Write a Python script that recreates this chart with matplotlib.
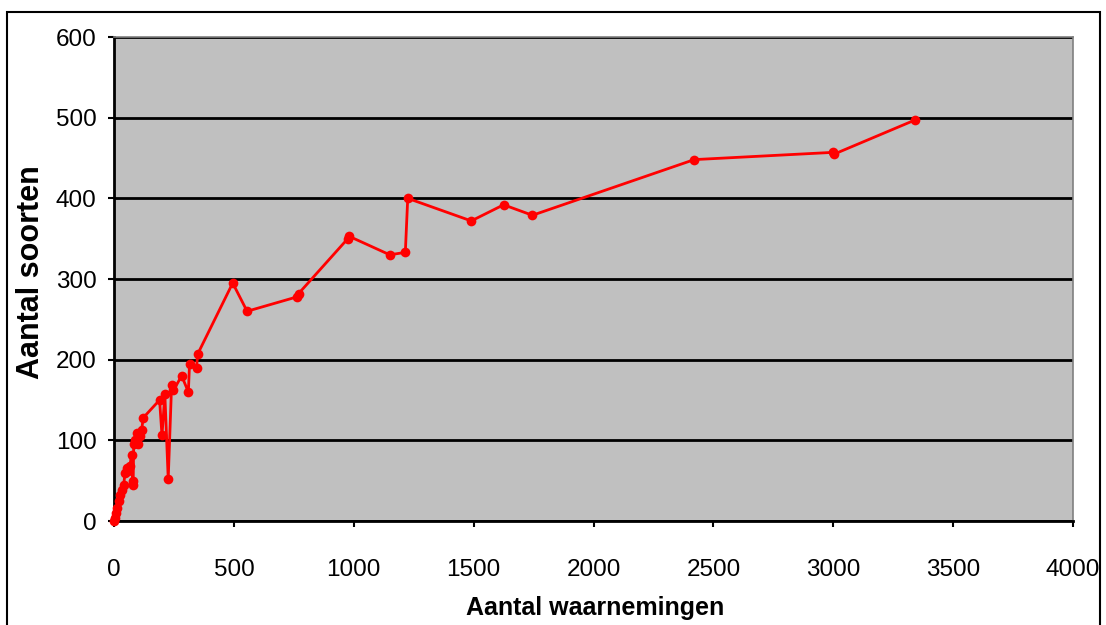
import matplotlib.pyplot as plt
from matplotlib.patches import Rectangle

plt.rcParams['font.family'] = ['Liberation Sans', 'DejaVu Sans']

# aantal waarnemingen (x) en aantal soorten (y)
waarnemingen = [0, 4, 8, 14, 20, 26, 32, 40, 46, 53, 60, 66, 73, 78, 80, 82, 88, 95, 100,
                108, 115, 122, 190, 200, 212, 226, 240, 248, 282, 310, 315, 344, 349,
                495, 555, 765, 770, 975, 980, 1150, 1215, 1225, 1490, 1625, 1745,
                2420, 3000, 3005, 3340]
soorten = [0, 4, 10, 16, 25, 32, 38, 45, 59, 66, 62, 68, 82, 45, 50, 95, 101, 109, 95,
           105, 113, 128, 150, 106, 157, 52, 168, 162, 180, 160, 195, 190, 207,
           295, 260, 278, 282, 350, 353, 330, 333, 400, 372, 392, 379,
           448, 457, 455, 497]

x_ticks = [0, 500, 1000, 1500, 2000, 2500, 3000, 3500, 4000]
y_ticks = [0, 100, 200, 300, 400, 500, 600]

fig = plt.figure(figsize=(11.06, 6.25), dpi=100)
ax = fig.add_axes([0.1031, 0.1664, 0.9702 - 0.1031, 0.9408 - 0.1664])
ax.set_facecolor('#C0C0C0')

# kader rond de figuur
fig.patches.append(Rectangle((7 / 1106, -0.05), (1100 - 7) / 1106, 1.05 - 12 / 625,
                             transform=fig.transFigure, fill=False,
                             edgecolor='black', linewidth=1.5))

ax.plot(waarnemingen, soorten, color='#FF0000', linewidth=2, marker='o',
        markersize=7, markeredgewidth=0, zorder=3, clip_on=False)

ax.set_xlim(0, 4000)
ax.set_ylim(0, 600)
ax.set_xticks(x_ticks)
ax.set_yticks(y_ticks)
ax.yaxis.grid(True, color='black', linewidth=2)
ax.set_axisbelow(True)

for s in ['top', 'right']:
    ax.spines[s].set_color('#808080')
    ax.spines[s].set_linewidth(1.2)
for s in ['left', 'bottom']:
    ax.spines[s].set_color('black')
    ax.spines[s].set_linewidth(2)

ax.tick_params(axis='both', direction='out', length=4.5, width=1.5, labelsize=17.5)
ax.tick_params(axis='x', pad=23)
ax.tick_params(axis='y', pad=8)

ax.set_xlabel('Aantal waarnemingen', fontsize=18, fontweight='bold', va='center')
ax.xaxis.set_label_coords(0.502, -0.18)
ax.set_ylabel('Aantal soorten', fontsize=22, fontweight='bold', va='center')
ax.yaxis.set_label_coords(-0.087, 0.515)

fig.savefig('out.png', dpi=100)
